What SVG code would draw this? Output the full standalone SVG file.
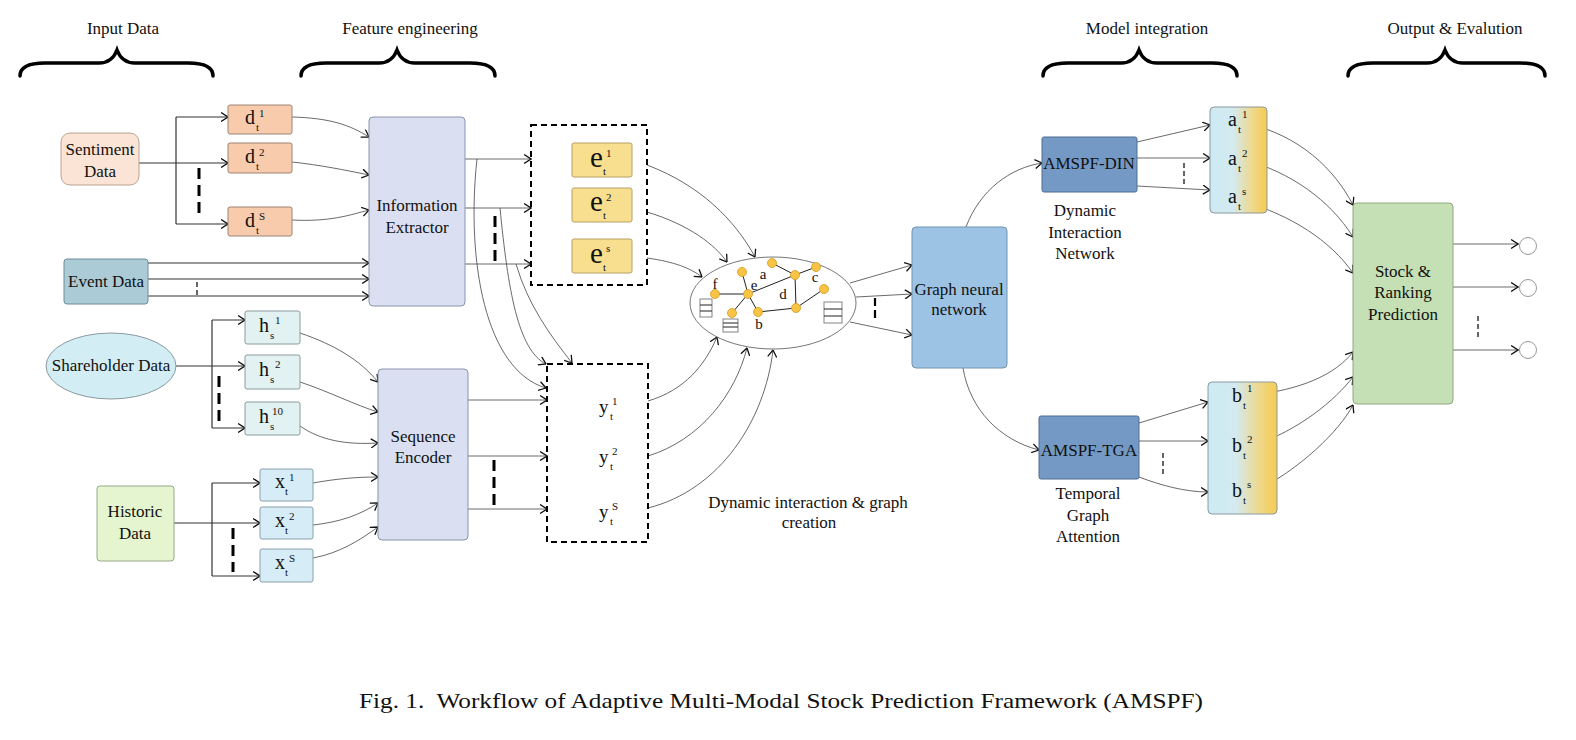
<svg xmlns="http://www.w3.org/2000/svg" width="1576" height="740" viewBox="0 0 1576 740">
<defs>
<marker id="ah" viewBox="0 0 8 10" refX="7.5" refY="5" markerWidth="8" markerHeight="10" markerUnits="userSpaceOnUse" orient="auto"><path d="M0.5,0.5 L7.5,5 L0.5,9.5" fill="none" stroke="#111" stroke-width="1.3"/></marker>
<linearGradient id="ab" x1="0" y1="0" x2="1" y2="0"><stop offset="0" stop-color="#cdeaf4"/><stop offset="0.4" stop-color="#d3eaf0"/><stop offset="0.75" stop-color="#efd88a"/><stop offset="1" stop-color="#f6cb50"/></linearGradient>
<style>
text{font-family:"Liberation Serif","Times New Roman",serif;fill:#111;}
.lb{font-size:17px;text-anchor:middle;}
.hd{font-size:17px;text-anchor:middle;}
.big{font-size:20px;}
.eb{font-size:29px;}
.sm{font-size:11px;}
.gl{font-size:15px;text-anchor:middle;}
.brace{fill:none;stroke:#000;stroke-width:3.5;stroke-linecap:round;}
.c{fill:none;stroke:#444;stroke-width:0.8;}
.s{fill:none;stroke:#333;stroke-width:1.2;}
.a{marker-end:url(#ah);}
.dash{stroke:#000;stroke-width:3;stroke-dasharray:11,6;fill:none;}
.dsm{stroke:#000;stroke-width:1.2;stroke-dasharray:5,3;fill:none;}
.dbox{fill:none;stroke:#000;stroke-width:2;stroke-dasharray:6,4;}
.gn{fill:#f8c446;stroke:#d49a20;stroke-width:0.8;}
.ge{stroke:#222;stroke-width:1;}
.tb{fill:#fff;stroke:#777;stroke-width:0.9;}
</style>
</defs>

<g id="headers">
<text class="hd" x="123" y="34">Input Data</text>
<path class="brace" d="M20,76 C20,68 28,63 45,63 H99 C109,63 114,58 117,50 C120,58 125,63 135,63 H188 C205,63 213,68 213,76"/>
<text class="hd" x="410" y="34">Feature engineering</text>
<path class="brace" d="M301,76 C301,68 309,63 326,63 H379 C389,63 394,58 397,50 C400,58 405,63 415,63 H470 C487,63 495,68 495,76"/>
<text class="hd" x="1147" y="34">Model integration</text>
<path class="brace" d="M1043,76 C1043,68 1051,63 1068,63 H1121 C1131,63 1136,58 1139,50 C1142,58 1147,63 1157,63 H1212 C1229,63 1237,68 1237,76"/>
<text class="hd" x="1455" y="34">Output &amp; Evalution</text>
<path class="brace" d="M1348,76 C1348,68 1356,63 1373,63 H1427 C1437,63 1442,58 1445,50 C1448,58 1453,63 1463,63 H1520 C1537,63 1545,68 1545,76"/>
</g>

<g id="connectors">
<path class="s a" d="M139,163 H228"/>
<path class="s" d="M176,117 V224"/>
<path class="s a" d="M176,117 H228"/>
<path class="s a" d="M176,224 H228"/>
<path class="dash" d="M199,168 V217"/>
<path class="c a" d="M292,117 C330,118 350,125 369,137"/>
<path class="c a" d="M292,162 C320,165 345,170 369,175"/>
<path class="c a" d="M292,220 C330,222 350,215 369,210"/>
<path class="s a" d="M148,263 H369"/>
<path class="s a" d="M148,279 H369"/>
<path class="s a" d="M148,296 H369"/>
<path class="dsm" d="M197,282 V295" stroke-width="1"/>
<path class="c a" d="M465,159 H531"/>
<path class="c a" d="M465,208 H531"/>
<path class="c a" d="M465,264 H531"/>
<path class="dash" d="M495,216 V261"/>
<path class="c a" d="M477,159 C466,260 485,370 546,388"/>
<path class="c a" d="M500,208 C508,290 518,350 546,364"/>
<path class="c a" d="M516,264 C528,305 550,335 572,363"/>
<path class="s a" d="M176,366 H245"/>
<path class="s" d="M212,320 V428"/>
<path class="s a" d="M212,320 H245"/>
<path class="s a" d="M212,428 H245"/>
<path class="dash" d="M219,376 V421"/>
<path class="c a" d="M300,333 C335,345 360,360 378,382"/>
<path class="c a" d="M300,382 C330,392 355,405 378,412"/>
<path class="c a" d="M300,426 C320,440 345,445 378,443"/>
<path class="s a" d="M174,523 H260"/>
<path class="s" d="M212,483 V576"/>
<path class="s a" d="M212,483 H260"/>
<path class="s a" d="M212,576 H260"/>
<path class="dash" d="M233,528 V572"/>
<path class="c a" d="M313,483 C335,479 355,477 378,477"/>
<path class="c a" d="M313,525 C340,522 360,515 378,503"/>
<path class="c a" d="M313,558 C340,553 360,540 378,527"/>
<path class="c a" d="M468,400 H547"/>
<path class="c a" d="M468,456 H547"/>
<path class="c a" d="M468,509 H547"/>
<path class="dash" d="M494,460 V505"/>
<path class="c a" d="M647,165 C700,185 735,220 755,257"/>
<path class="c a" d="M647,212 C690,225 715,245 727,262"/>
<path class="c a" d="M647,258 C675,262 690,268 702,277"/>
<path class="c a" d="M648,401 C685,390 705,365 717,337"/>
<path class="c a" d="M648,456 C700,440 735,395 747,348"/>
<path class="c a" d="M648,508 C720,490 765,420 773,350"/>
<path class="c a" d="M850,283 L912,265"/>
<path class="c a" d="M856,297 L912,294"/>
<path class="c a" d="M850,322 L912,335"/>
<path d="M875,298 V320" stroke="#000" stroke-width="2.2" stroke-dasharray="8,4" fill="none"/>
<path class="c a" d="M966,227 C980,190 1010,168 1042,163"/>
<path class="c a" d="M963,368 C970,410 1000,440 1039,450"/>
<path class="c a" d="M1137,142 L1210,125"/>
<path class="c a" d="M1137,158 H1210"/>
<path class="c a" d="M1137,186 L1210,190"/>
<path class="dsm" d="M1184,163 V185"/>
<path class="c a" d="M1139,423 L1208,402"/>
<path class="c a" d="M1139,441 H1208"/>
<path class="c a" d="M1139,477 C1160,485 1185,492 1208,492"/>
<path class="dsm" d="M1163,453 V477"/>
<path class="c a" d="M1245,123 C1300,135 1335,170 1353,205"/>
<path class="c a" d="M1245,160 C1290,172 1330,200 1353,237"/>
<path class="c a" d="M1245,202 C1290,215 1330,240 1353,273"/>
<path class="c a" d="M1252,395 C1300,390 1335,375 1353,352"/>
<path class="c a" d="M1252,446 C1300,430 1335,400 1353,377"/>
<path class="c a" d="M1252,493 C1300,470 1340,430 1353,405"/>
<path class="c a" d="M1453,244 H1518"/>
<path class="c a" d="M1453,287 H1518"/>
<path class="c a" d="M1453,350 H1518"/>
<path class="dsm" d="M1478,316 V338" stroke-width="1"/>
</g>

<g id="sentiment">
<rect x="61" y="133" width="78" height="52" rx="9" fill="#fbe4d5" stroke="#b8a493" stroke-width="1"/>
<text class="lb" x="100" y="155">Sentiment</text>
<text class="lb" x="100" y="177">Data</text>
</g>
<g id="d1"><rect x="228" y="105" width="64" height="29" rx="2" fill="#f8cbad" stroke="#9c8574"/>
<text><tspan class="big" x="245" y="124">d</tspan><tspan class="sm" x="256" y="131">t</tspan><tspan class="sm" x="259" y="117">1</tspan></text></g>
<g id="d2"><rect x="228" y="143" width="64" height="30" rx="2" fill="#f8cbad" stroke="#9c8574"/>
<text><tspan class="big" x="245" y="163">d</tspan><tspan class="sm" x="256" y="170">t</tspan><tspan class="sm" x="259" y="156">2</tspan></text></g>
<g id="ds"><rect x="228" y="207" width="64" height="29" rx="2" fill="#f8cbad" stroke="#9c8574"/>
<text><tspan class="big" x="245" y="227">d</tspan><tspan class="sm" x="256" y="234">t</tspan><tspan class="sm" x="259" y="220">S</tspan></text></g>

<g id="event">
<rect x="64" y="259" width="84" height="45" rx="3" fill="#abcbd6" stroke="#6d8c98"/>
<text class="lb" x="106" y="287">Event Data</text>
</g>

<g id="info-extractor">
<rect x="369" y="117" width="96" height="189" rx="4" fill="#dae0f2" stroke="#8c93aa"/>
<text class="lb" x="417" y="211">Information</text>
<text class="lb" x="417" y="233">Extractor</text>
</g>

<g id="e-group">
<rect class="dbox" x="531" y="125" width="116" height="160"/>
<rect x="572" y="143" width="60" height="34" rx="2" fill="#f7df8f" stroke="#b6a066"/>
<text><tspan class="eb" x="590" y="167">e</tspan><tspan class="sm" x="603" y="175" font-size="12">t</tspan><tspan class="sm" x="606" y="157" font-size="12">1</tspan></text>
<rect x="572" y="188" width="60" height="34" rx="2" fill="#f7df8f" stroke="#b6a066"/>
<text><tspan class="eb" x="590" y="211">e</tspan><tspan class="sm" x="603" y="219" font-size="12">t</tspan><tspan class="sm" x="606" y="201" font-size="12">2</tspan></text>
<rect x="572" y="239" width="60" height="34" rx="2" fill="#f7df8f" stroke="#b6a066"/>
<text><tspan class="eb" x="590" y="263">e</tspan><tspan class="sm" x="603" y="271" font-size="12">t</tspan><tspan class="sm" x="606" y="252" font-size="12">s</tspan></text>
</g>

<g id="shareholder">
<ellipse cx="111" cy="366" rx="65" ry="33" fill="#d3edf5" stroke="#8a9aa0"/>
<text class="lb" x="111" y="371">Shareholder Data</text>
</g>
<g id="h1"><rect x="245" y="311" width="55" height="33" rx="2" fill="#e2f1f1" stroke="#8a9c9c"/>
<text><tspan class="big" x="259" y="332">h</tspan><tspan class="sm" x="270" y="339">s</tspan><tspan class="sm" x="275" y="324">1</tspan></text></g>
<g id="h2"><rect x="245" y="355" width="55" height="34" rx="2" fill="#e2f1f1" stroke="#8a9c9c"/>
<text><tspan class="big" x="259" y="376">h</tspan><tspan class="sm" x="270" y="383">s</tspan><tspan class="sm" x="275" y="368">2</tspan></text></g>
<g id="h10"><rect x="245" y="402" width="55" height="33" rx="2" fill="#e2f1f1" stroke="#8a9c9c"/>
<text><tspan class="big" x="259" y="423">h</tspan><tspan class="sm" x="270" y="430">s</tspan><tspan class="sm" x="272" y="415">10</tspan></text></g>

<g id="historic">
<rect x="97" y="486" width="77" height="75" rx="3" fill="#e5f5d0" stroke="#97a88a"/>
<text class="lb" x="135" y="517">Historic</text>
<text class="lb" x="135" y="539">Data</text>
</g>
<g id="x1"><rect x="260" y="469" width="53" height="32" rx="2" fill="#d6ecf6" stroke="#8aa0ac"/>
<text><tspan class="big" x="275" y="488">x</tspan><tspan class="sm" x="285" y="495">t</tspan><tspan class="sm" x="289" y="481">1</tspan></text></g>
<g id="x2"><rect x="260" y="507" width="53" height="32" rx="2" fill="#d6ecf6" stroke="#8aa0ac"/>
<text><tspan class="big" x="275" y="527">x</tspan><tspan class="sm" x="285" y="534">t</tspan><tspan class="sm" x="289" y="520">2</tspan></text></g>
<g id="xs"><rect x="260" y="549" width="53" height="33" rx="2" fill="#d6ecf6" stroke="#8aa0ac"/>
<text><tspan class="big" x="275" y="569">x</tspan><tspan class="sm" x="285" y="576">t</tspan><tspan class="sm" x="289" y="562">S</tspan></text></g>

<g id="seq-encoder">
<rect x="378" y="369" width="90" height="171" rx="4" fill="#dae0f2" stroke="#8c93aa"/>
<text class="lb" x="423" y="442">Sequence</text>
<text class="lb" x="423" y="463">Encoder</text>
</g>

<g id="y-group">
<rect class="dbox" x="547" y="364" width="101" height="178"/>
<text><tspan font-size="19" x="599" y="413">y</tspan><tspan class="sm" x="610" y="420">t</tspan><tspan class="sm" x="612" y="405">1</tspan></text>
<text><tspan font-size="19" x="599" y="463">y</tspan><tspan class="sm" x="610" y="470">t</tspan><tspan class="sm" x="612" y="455">2</tspan></text>
<text><tspan font-size="19" x="599" y="518">y</tspan><tspan class="sm" x="610" y="525">t</tspan><tspan class="sm" x="612" y="510">S</tspan></text>
</g>

<g id="graph">
<ellipse cx="773" cy="303" rx="83" ry="46" fill="#fff" stroke="#666" stroke-width="0.9"/>
<line class="ge" x1="772" y1="263" x2="795" y2="275"/>
<line class="ge" x1="795" y1="275" x2="816" y2="267"/>
<line class="ge" x1="795" y1="275" x2="796" y2="308"/>
<line class="ge" x1="748" y1="294" x2="795" y2="275"/>
<line class="ge" x1="742" y1="272" x2="748" y2="294"/>
<line class="ge" x1="715" y1="294" x2="748" y2="294"/>
<line class="ge" x1="748" y1="294" x2="732" y2="313"/>
<line class="ge" x1="748" y1="294" x2="758" y2="312"/>
<line class="ge" x1="758" y1="312" x2="796" y2="308"/>
<line class="ge" x1="796" y1="308" x2="824" y2="289"/>
<circle class="gn" cx="772" cy="263" r="4.5"/>
<circle class="gn" cx="795" cy="275" r="4.5"/>
<circle class="gn" cx="816" cy="267" r="4.5"/>
<circle class="gn" cx="742" cy="272" r="4.5"/>
<circle class="gn" cx="748" cy="294" r="4.5"/>
<circle class="gn" cx="715" cy="294" r="4.5"/>
<circle class="gn" cx="732" cy="313" r="4.5"/>
<circle class="gn" cx="758" cy="312" r="4.5"/>
<circle class="gn" cx="796" cy="308" r="4.5"/>
<circle class="gn" cx="824" cy="289" r="4.5"/>
<text class="gl" x="763" y="279">a</text>
<text class="gl" x="815" y="282">c</text>
<text class="gl" x="783" y="299">d</text>
<text class="gl" x="754" y="290">e</text>
<text class="gl" x="715" y="289">f</text>
<text class="gl" x="759" y="329">b</text>
<rect class="tb" x="700" y="299" width="12" height="18"/>
<line class="ge" x1="700" y1="305" x2="712" y2="305" stroke="#777"/>
<line class="ge" x1="700" y1="311" x2="712" y2="311" stroke="#777"/>
<rect class="tb" x="723" y="319" width="15" height="13"/>
<line class="ge" x1="723" y1="323" x2="738" y2="323" stroke="#555"/>
<line class="ge" x1="723" y1="327" x2="738" y2="327" stroke="#555"/>
<rect class="tb" x="824" y="302" width="18" height="21"/>
<line class="ge" x1="824" y1="309" x2="842" y2="309" stroke="#777"/>
<line class="ge" x1="824" y1="316" x2="842" y2="316" stroke="#222" stroke-width="1.3"/>
<text class="lb" x="808" y="508">Dynamic interaction &amp; graph</text>
<text class="lb" x="809" y="528">creation</text>
</g>

<g id="gnn">
<rect x="912" y="227" width="95" height="141" rx="4" fill="#9dc3e4" stroke="#7193b2"/>
<text class="lb" x="959" y="295">Graph neural</text>
<text class="lb" x="959" y="315">network</text>
</g>

<g id="din">
<rect x="1042" y="137" width="95" height="55" rx="2" fill="#7399c4" stroke="#4f6f94"/>
<text class="lb" x="1089" y="169">AMSPF-DIN</text>
<text class="lb" x="1085" y="216">Dynamic</text>
<text class="lb" x="1085" y="238">Interaction</text>
<text class="lb" x="1085" y="259">Network</text>
</g>

<g id="a-box">
<rect x="1210" y="107" width="57" height="106" rx="4" fill="url(#ab)" stroke="#8a9aa0"/>
<text><tspan class="big" x="1228" y="126">a</tspan><tspan class="sm" x="1238" y="133">t</tspan><tspan class="sm" x="1242" y="118">1</tspan></text>
<text><tspan class="big" x="1228" y="165">a</tspan><tspan class="sm" x="1238" y="172">t</tspan><tspan class="sm" x="1242" y="157">2</tspan></text>
<text><tspan class="big" x="1228" y="203">a</tspan><tspan class="sm" x="1238" y="210">t</tspan><tspan class="sm" x="1242" y="195">s</tspan></text>
</g>

<g id="tga">
<rect x="1039" y="416" width="100" height="63" rx="2" fill="#7399c4" stroke="#4f6f94"/>
<text class="lb" x="1089" y="456">AMSPF-TGA</text>
<text class="lb" x="1088" y="499">Temporal</text>
<text class="lb" x="1088" y="521">Graph</text>
<text class="lb" x="1088" y="542">Attention</text>
</g>

<g id="b-box">
<rect x="1208" y="382" width="69" height="132" rx="4" fill="url(#ab)" stroke="#8a9aa0"/>
<text><tspan class="big" x="1232" y="402">b</tspan><tspan class="sm" x="1243" y="409">t</tspan><tspan class="sm" x="1247" y="392">1</tspan></text>
<text><tspan class="big" x="1232" y="452">b</tspan><tspan class="sm" x="1243" y="459">t</tspan><tspan class="sm" x="1247" y="443">2</tspan></text>
<text><tspan class="big" x="1232" y="497">b</tspan><tspan class="sm" x="1243" y="504">t</tspan><tspan class="sm" x="1247" y="488">s</tspan></text>
</g>

<g id="stock">
<rect x="1353" y="203" width="100" height="201" rx="4" fill="#c5e0b4" stroke="#8ea97f"/>
<text class="lb" x="1403" y="277">Stock &amp;</text>
<text class="lb" x="1403" y="298">Ranking</text>
<text class="lb" x="1403" y="320">Prediction</text>
</g>

<g id="outputs">
<circle cx="1528" cy="246" r="8.5" fill="#fff" stroke="#999"/>
<circle cx="1528" cy="288" r="8.5" fill="#fff" stroke="#999"/>
<circle cx="1528" cy="350" r="8.5" fill="#fff" stroke="#999"/>
</g>

<g id="caption">
<text x="359" y="708" font-size="22" textLength="844" lengthAdjust="spacingAndGlyphs" xml:space="preserve">Fig. 1.  Workflow of Adaptive Multi-Modal Stock Prediction Framework (AMSPF)</text>
</g>
</svg>
